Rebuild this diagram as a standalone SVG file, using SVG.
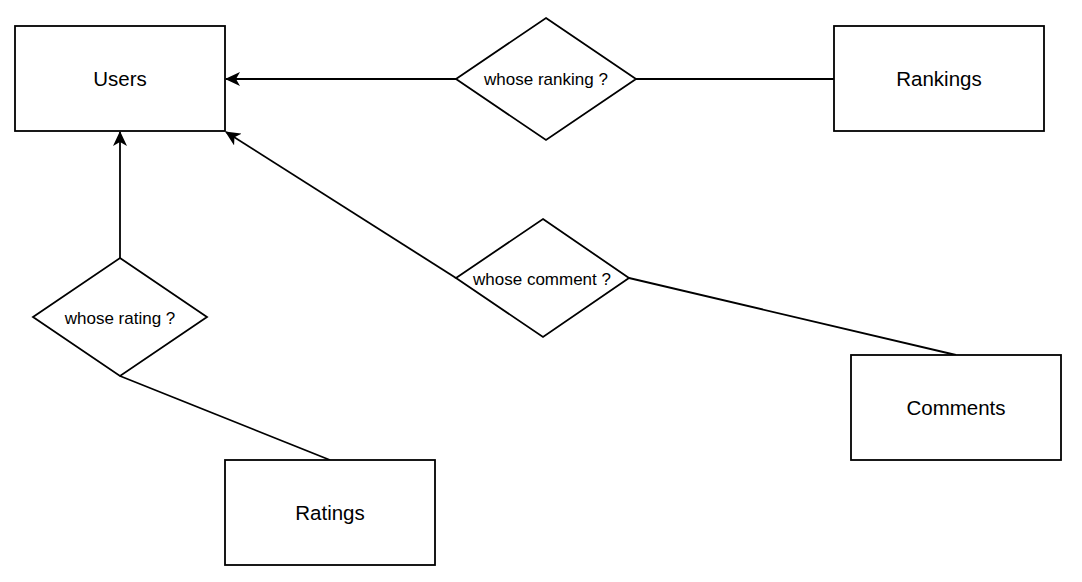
<svg xmlns="http://www.w3.org/2000/svg" width="1082" height="582" viewBox="0 0 1082 582">
<style>
.shape{fill:#fff;stroke:#000;stroke-width:1.8}
.conn{fill:none;stroke:#000;stroke-width:1.8}
.lbl{font-family:"Liberation Sans",Arial,sans-serif;fill:#000;text-anchor:middle;dominant-baseline:central}
.ent{font-size:20.5px}
.rel{font-size:17px}
</style>
<defs>
<marker id="arr" viewBox="0 0 15 14" refX="14" refY="7" markerWidth="15" markerHeight="14" markerUnits="userSpaceOnUse" orient="auto">
<path d="M0,0 L15,7 L0,14 L4,7 Z" fill="#000"/>
</marker>
</defs>
<rect width="1082" height="582" fill="#fff"/>
<g id="connectors">
<line class="conn" x1="456" y1="79" x2="226" y2="79" marker-end="url(#arr)"/>
<line class="conn" x1="636" y1="79" x2="834" y2="79"/>
<line class="conn" x1="120" y1="258" x2="120" y2="132" marker-end="url(#arr)"/>
<line class="conn" x1="120" y1="376" x2="330" y2="460"/>
<line class="conn" x1="456" y1="278" x2="226" y2="132" marker-end="url(#arr)"/>
<line class="conn" x1="629" y1="278" x2="956" y2="355"/>
</g>
<g id="users">
<rect class="shape" x="15" y="26" width="210" height="105"/>
<text class="lbl ent" x="120" y="78.5">Users</text>
</g>
<g id="rankings">
<rect class="shape" x="834" y="26" width="210" height="105"/>
<text class="lbl ent" x="939" y="78.5">Rankings</text>
</g>
<g id="comments">
<rect class="shape" x="851" y="355" width="210" height="105"/>
<text class="lbl ent" x="956" y="407.5">Comments</text>
</g>
<g id="ratings">
<rect class="shape" x="225" y="460" width="210" height="105"/>
<text class="lbl ent" x="330" y="512.5">Ratings</text>
</g>
<g id="whose-ranking">
<polygon class="shape" points="546,18 636,79 546,140 456,79"/>
<text class="lbl rel" x="546" y="79">whose ranking ?</text>
</g>
<g id="whose-comment">
<polygon class="shape" points="543,219 629,278 543,337 456,278"/>
<text class="lbl rel" x="542" y="279">whose comment ?</text>
</g>
<g id="whose-rating">
<polygon class="shape" points="120,258 207,317 120,376 33,317"/>
<text class="lbl rel" x="120" y="318">whose rating ?</text>
</g>
</svg>
